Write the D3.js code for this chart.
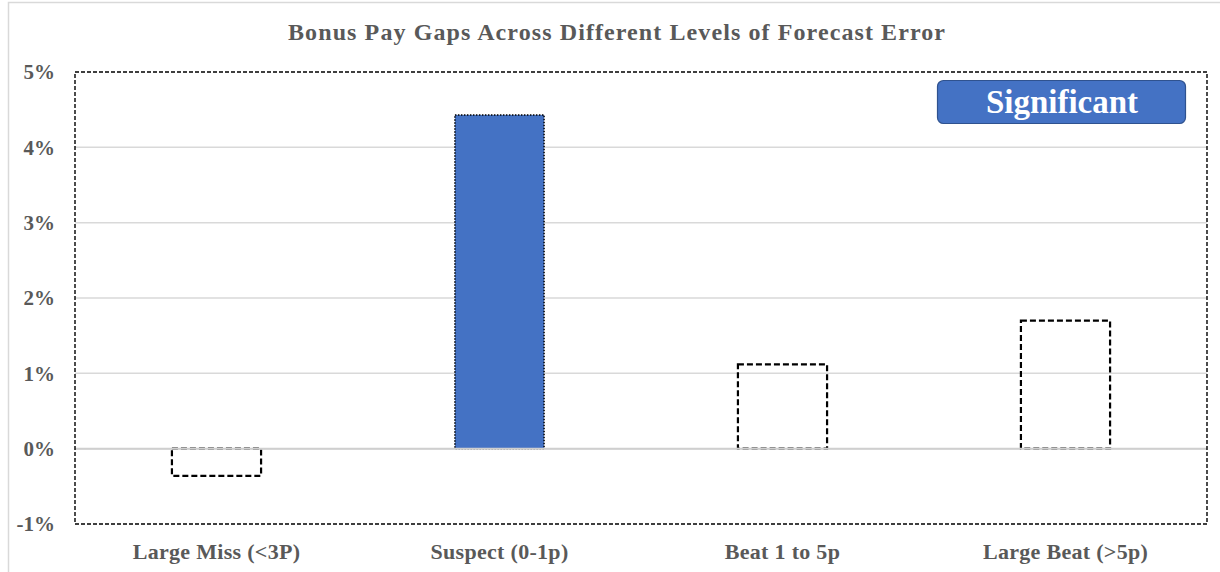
<!DOCTYPE html>
<html><head><meta charset="utf-8">
<script src="https://cdn.jsdelivr.net/npm/d3@7"></script>
<style>body{margin:0;background:#fff}svg{display:block}</style>
</head><body>
<svg id="c" width="1220" height="572"></svg>
<script>
const categories = ["Large Miss (<3P)", "Suspect (0-1p)", "Beat 1 to 5p", "Large Beat (>5p)"];
const values = [-0.0036, 0.0443, 0.0112, 0.0170];
const significant = [false, true, false, false];
const yTicks = [-0.01, 0, 0.01, 0.02, 0.03, 0.04, 0.05];
const title = "Bonus Pay Gaps Across Different Levels of Forecast Error";
const legendText = "Significant";

const svg = d3.select("#c");
const m = {left: 75, right: 13, top: 72, bottom: 48};
const W = 1220, H = 572;
const font = "'Liberation Serif', 'DejaVu Serif', serif";

// outer chart border
svg.append("rect").attr("x", 8.5).attr("y", 2.5).attr("width", 1230).attr("height", 600)
  .attr("fill", "none").attr("stroke", "#d9d9d9").attr("stroke-width", 1.5);

const x = d3.scaleBand().domain(categories).range([m.left, W - m.right]).paddingInner(0.685).paddingOuter(0.3425);
const y = d3.scaleLinear().domain([-0.01, 0.05]).range([H - m.bottom, m.top]);

// gridlines
svg.append("g").selectAll("line").data(yTicks.filter(t => t > -0.01 && t < 0.05)).join("line")
  .attr("x1", m.left).attr("x2", W - m.right)
  .attr("y1", d => y(d)).attr("y2", d => y(d))
  .attr("stroke", "#d9d9d9").attr("stroke-width", 1.5);

// y axis labels
const pct = d3.format(".0%");
const yAxis = d3.axisLeft(y).tickValues(yTicks).tickFormat(d => pct(d).replace("\u2212", "-")).tickSize(0).tickPadding(20);
const ya = svg.append("g").attr("transform", `translate(${m.left},0)`).call(yAxis);
ya.select(".domain").remove();
ya.selectAll("text").attr("font-family", font).attr("font-size", 21).attr("font-weight", "bold").attr("fill", "#595959");

// bars
svg.append("g").selectAll("rect").data(categories).join("rect")
  .attr("x", d => x(d))
  .attr("width", x.bandwidth())
  .attr("y", (d, i) => y(Math.max(0, values[i])))
  .attr("height", (d, i) => Math.abs(y(values[i]) - y(0)))
  .attr("fill", (d, i) => significant[i] ? "#4472C4" : "none")
  .attr("stroke", "#000")
  .attr("stroke-width", (d, i) => significant[i] ? 1.5 : 2.2)
  .attr("stroke-dasharray", (d, i) => significant[i] ? "1.5,1.5" : "6,3");

// zero baseline (grey) drawn over bar edges
svg.append("line").attr("x1", m.left).attr("x2", W - m.right).attr("y1", y(0)).attr("y2", y(0))
  .attr("stroke", "#cfcfcf").attr("stroke-width", 2);

// plot area dashed border
svg.append("rect").attr("x", m.left).attr("y", m.top)
  .attr("width", W - m.right - m.left).attr("height", H - m.bottom - m.top)
  .attr("fill", "none").attr("stroke", "#000").attr("stroke-width", 1.4).attr("stroke-dasharray", "4,2");

// x axis labels
const xAxis = d3.axisBottom(x).tickSize(0).tickPadding(19);
const xa = svg.append("g").attr("transform", `translate(0,${H - m.bottom})`).call(xAxis);
xa.select(".domain").remove();
xa.selectAll("text").attr("font-family", font).attr("font-size", 22).attr("font-weight", "bold")
  .attr("letter-spacing", 0.3).attr("fill", "#595959");

// title
svg.append("text").attr("x", 616.5).attr("y", 40).attr("text-anchor", "middle")
  .attr("font-family", font).attr("font-size", 24).attr("font-weight", "bold").attr("fill", "#595959")
  .attr("textLength", 657).attr("lengthAdjust", "spacing")
  .text(title);

// significant legend box
const lg = svg.append("g");
lg.append("rect").attr("x", 937.5).attr("y", 80.5).attr("width", 248).attr("height", 43).attr("rx", 6)
  .attr("fill", "#4472C4").attr("stroke", "#2F528F").attr("stroke-width", 1.2);
lg.append("text").attr("x", 1062).attr("y", 113).attr("text-anchor", "middle")
  .attr("font-family", font).attr("font-size", 33).attr("font-weight", "bold").attr("fill", "#fff")
  .text(legendText);
</script>
</body></html>
